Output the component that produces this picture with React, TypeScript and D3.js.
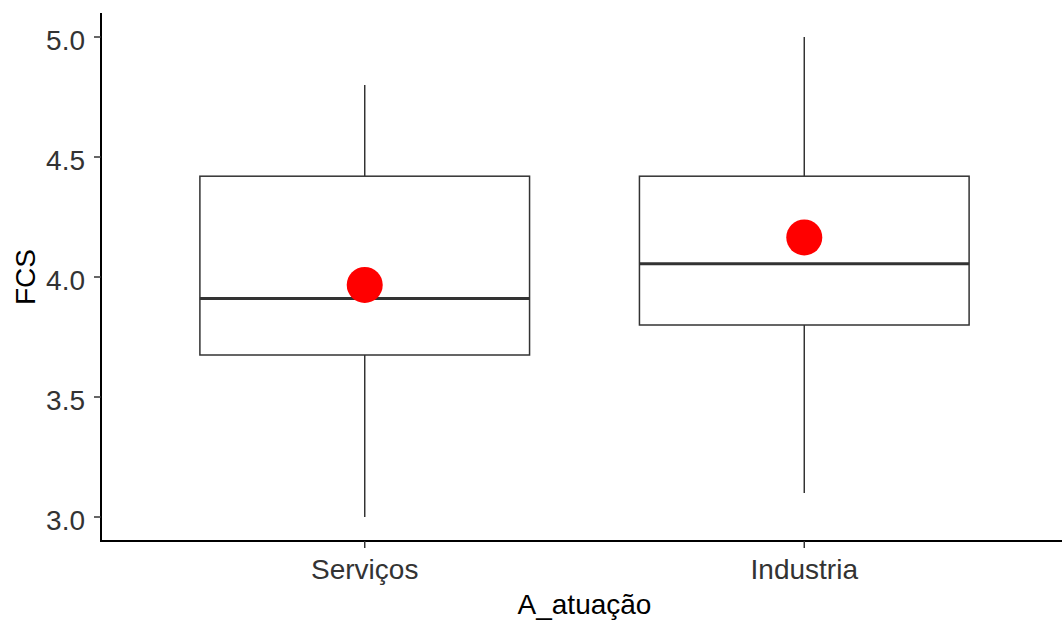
import React from "react";
import * as d3 from "d3";

// Box-plot summary per sector
const categories = ["Serviços", "Industria"];
const whiskerLow = [3.0, 3.1];
const q1 = [3.675, 3.8];
const median = [3.91, 4.055];
const q3 = [4.42, 4.42];
const whiskerHigh = [4.8, 5.0];
const means = [3.967, 4.165];

const yTicks = [3.0, 3.5, 4.0, 4.5, 5.0];

const W = 1062;
const H = 621;
const left = 101;
const right = 1068;
const top = 13;
const bottom = 541;
const font = "'Liberation Sans', Arial, sans-serif";
const fs = 28;

export default function App() {
  const x = d3.scalePoint<string>().domain(categories).range([left, right]).padding(0.6);
  const y = d3.scaleLinear().domain([2.9, 5.1]).range([bottom, top]);
  const boxW = x.step() * 0.75;

  return (
    <svg
      width={W}
      height={H}
      style={{ position: "absolute", left: 0, top: 0, display: "block", background: "#fff" }}
    >
      {/* boxes */}
      {categories.map((c, i) => {
        const cx = x(c)!;
        return (
          <g key={c}>
            <line x1={cx} x2={cx} y1={y(q3[i])} y2={y(whiskerHigh[i])} stroke="#333" strokeWidth={1.5} />
            <line x1={cx} x2={cx} y1={y(q1[i])} y2={y(whiskerLow[i])} stroke="#333" strokeWidth={1.5} />
            <rect
              x={cx - boxW / 2}
              y={y(q3[i])}
              width={boxW}
              height={y(q1[i]) - y(q3[i])}
              fill="#fff"
              stroke="#333"
              strokeWidth={1.5}
            />
            <line
              x1={cx - boxW / 2}
              x2={cx + boxW / 2}
              y1={y(median[i])}
              y2={y(median[i])}
              stroke="#333"
              strokeWidth={3}
            />
            <circle cx={cx} cy={y(means[i])} r={18} fill="#ff0000" />
          </g>
        );
      })}

      {/* y axis */}
      <line x1={left} x2={left} y1={top} y2={bottom + 1} stroke="#000" strokeWidth={2} />
      {yTicks.map((t) => (
        <g key={t}>
          <line x1={left - 7} x2={left} y1={y(t)} y2={y(t)} stroke="#333" strokeWidth={1.5} />
          <text
            x={left - 16}
            y={y(t)}
            dy="0.46em"
            textAnchor="end"
            fontFamily={font}
            fontSize={fs}
            fill="#333"
          >
            {t.toFixed(1)}
          </text>
        </g>
      ))}

      {/* x axis */}
      <line x1={left - 1} x2={right} y1={bottom} y2={bottom} stroke="#000" strokeWidth={2} />
      {categories.map((c) => (
        <g key={c}>
          <line x1={x(c)!} x2={x(c)!} y1={bottom} y2={bottom + 7} stroke="#333" strokeWidth={1.5} />
          <text
            x={x(c)!}
            y={579}
            textAnchor="middle"
            fontFamily={font}
            fontSize={fs}
            fill="#333"
          >
            {c}
          </text>
        </g>
      ))}

      {/* axis titles */}
      <text
        x={(left + right) / 2}
        y={614}
        textAnchor="middle"
        fontFamily={font}
        fontSize={fs}
        fill="#000"
      >
        A_atuação
      </text>
      <text
        transform={`translate(35, ${(top + bottom) / 2}) rotate(-90)`}
        textAnchor="middle"
        fontFamily={font}
        fontSize={fs}
        fill="#000"
      >
        FCS
      </text>
    </svg>
  );
}
